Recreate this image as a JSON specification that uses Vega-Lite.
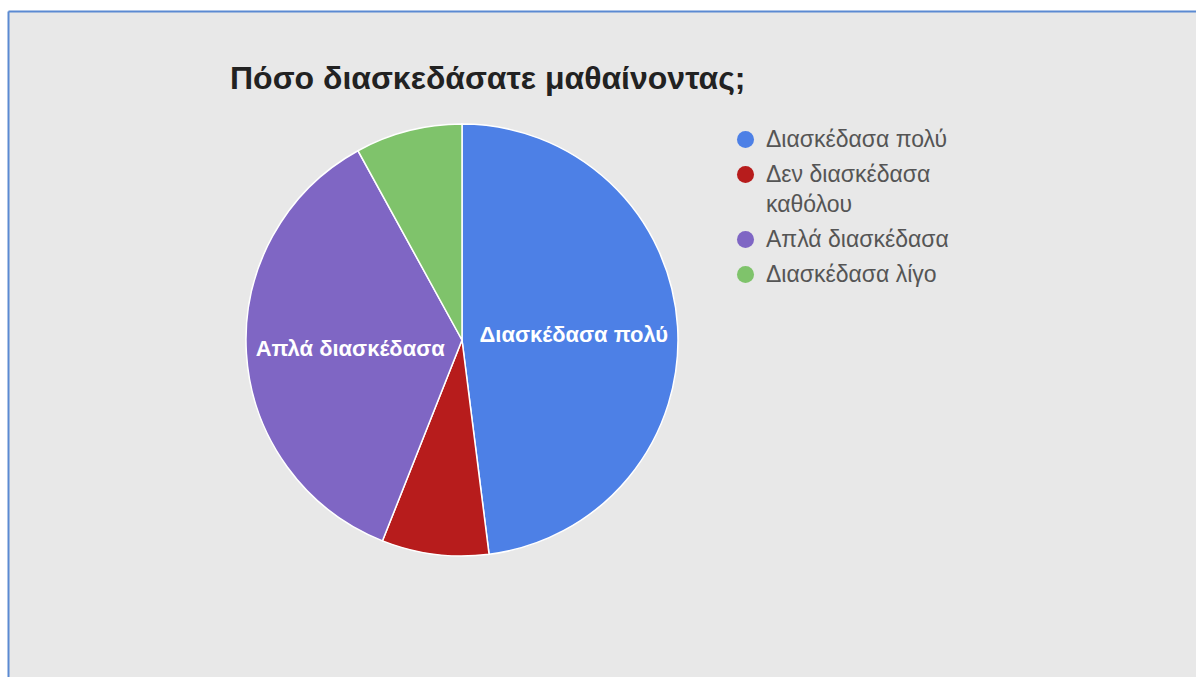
{
  "$schema": "https://vega.github.io/schema/vega-lite/v6.json",
  "width": 1188,
  "height": 666,
  "autosize": {"type": "none"},
  "padding": {"left": 8, "top": 11, "right": 0, "bottom": 0},
  "background": "#ffffff",
  "config": {
    "view": {"fill": "#e8e8e8", "stroke": null},
    "font": "Liberation Sans",
    "style": {"guide-label": {"lineHeight": 30}}
  },
  "title": {
    "text": "Πόσο διασκεδάσατε μαθαίνοντας;",
    "anchor": "start",
    "frame": "group",
    "orient": "top",
    "offset": 0,
    "dx": 222,
    "dy": 110,
    "baseline": "alphabetic",
    "fontSize": 32,
    "fontWeight": "bold",
    "color": "#222222",
    "font": "Liberation Sans"
  },
  "data": {
    "values": [
      {"answer": "Διασκέδασα πολύ", "n": 12, "ord": 1},
      {"answer": "Δεν διασκέδασα καθόλου", "n": 2, "ord": 2},
      {"answer": "Απλά διασκέδασα", "n": 9, "ord": 3},
      {"answer": "Διασκέδασα λίγο", "n": 2, "ord": 4}
    ]
  },
  "encoding": {
    "theta": {"field": "n", "type": "quantitative", "stack": true},
    "order": {"field": "ord", "type": "quantitative"},
    "x": {
      "datum": 454,
      "type": "quantitative",
      "scale": {"domain": [0, 1188], "nice": false, "zero": false},
      "axis": {"orient": "top", "domainColor": "#5b8ad2", "domainWidth": 2, "ticks": false, "labels": false, "grid": false, "title": null}
    },
    "y": {
      "datum": 329,
      "type": "quantitative",
      "scale": {"domain": [0, 666], "nice": false, "zero": false, "reverse": true},
      "axis": {"orient": "left", "domainColor": "#5b8ad2", "domainWidth": 2, "ticks": false, "labels": false, "grid": false, "title": null}
    }
  },
  "layer": [
    {
      "mark": {"type": "arc", "outerRadius": 216, "stroke": "#ffffff", "strokeWidth": 1.5},
      "encoding": {
        "color": {
          "field": "answer",
          "type": "nominal",
          "scale": {
            "domain": ["Διασκέδασα πολύ", "Δεν διασκέδασα καθόλου", "Απλά διασκέδασα", "Διασκέδασα λίγο"],
            "range": ["#4d80e6", "#b71c1c", "#7f66c4", "#7fc36b"]
          },
          "legend": {
            "title": null,
            "orient": "none",
            "legendX": 726,
            "legendY": 117,
            "padding": 0,
            "symbolType": "circle",
            "symbolSize": 290,
            "symbolStrokeWidth": 0,
            "labelFontSize": 23,
            "labelColor": "#555555",
            "labelFont": "Liberation Sans",
            "labelOffset": 9,
            "labelLimit": 300,
            "rowPadding": 11,
            "labelExpr": "datum.label == 'Δεν διασκέδασα καθόλου' ? ['Δεν διασκέδασα', 'καθόλου'] : datum.label"
          }
        }
      }
    },
    {
      "mark": {"type": "text", "radius": 112, "fontSize": 22, "fontWeight": "bold", "fill": "#ffffff", "font": "Liberation Sans", "dy": 2},
      "encoding": {
        "text": {"condition": {"test": "datum.n > 3", "field": "answer"}, "value": ""}
      }
    }
  ]
}
